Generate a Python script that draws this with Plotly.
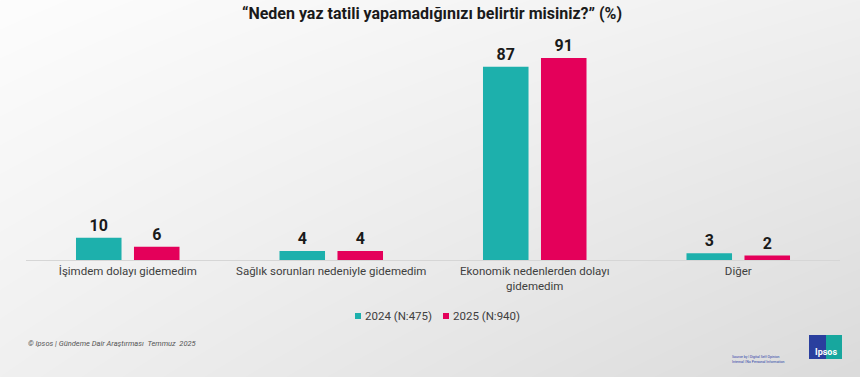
import base64, struct, zlib
import numpy as np
import plotly.graph_objects as go

categories = ["İşimdem dolayı gidemedim", "Sağlık sorunları nedeniyle gidemedim",
              "Ekonomik nedenlerden dolayı<br>gidemedim", "Diğer"]
series_2024 = [10, 4, 87, 3]
series_2025 = [6, 4, 91, 2]
name_2024 = "2024 (N:475)"
name_2025 = "2025 (N:940)"
title_text = "“Neden yaz tatili yapamadığınızı belirtir misiniz?” (%)"
footer_text = "© Ipsos | Gündeme Dair Araştırması  Temmuz  2025"

W, H = 860, 377
PL, PR, PT, PB = 26, 840, 38, 260   # plot area in window px
PW, PH = PR - PL, PB - PT

def px(x):   # window x -> paper
    return (x - PL) / PW

def py(y):   # window y -> paper
    return (PB - y) / PH

def gradient_png(w, h):
    xs = np.linspace(0, 1, w)[None, :]
    ys = np.linspace(0, 1, h)[:, None]
    tl, tr, bl, br = 253, 240, 240, 219
    v = tl * (1 - xs) * (1 - ys) + tr * xs * (1 - ys) + bl * (1 - xs) * ys + br * xs * ys
    v = np.clip(v, 0, 255).astype(np.uint8)
    rgb = np.stack([v, v, v], axis=-1)
    raw = b"".join(b"\x00" + rgb[r].tobytes() for r in range(h))
    def chunk(t, d):
        c = struct.pack(">I", len(d)) + t + d
        return c + struct.pack(">I", zlib.crc32(t + d) & 0xffffffff)
    png = b"\x89PNG\r\n\x1a\n" + chunk(b"IHDR", struct.pack(">IIBBBBB", w, h, 8, 2, 0, 0, 0)) \
        + chunk(b"IDAT", zlib.compress(raw, 9)) + chunk(b"IEND", b"")
    return "data:image/png;base64," + base64.b64encode(png).decode()

bg = gradient_png(W, H)

teal = "#1DB0AC"
pink = "#E4005A"
font_main = "Roboto"
label_font = dict(family=font_main, size=16, color="#1a1a1a", weight="bold")

fig = go.Figure()
for name, vals, col in [(name_2024, series_2024, teal), (name_2025, series_2025, pink)]:
    fig.add_trace(go.Bar(x=categories, y=vals, name=name, marker_color=col,
                         marker_line_width=0, text=vals, textposition="outside",
                         textfont=label_font, cliponaxis=False, showlegend=False,
                         hoverinfo="skip"))

fig.update_layout(
    width=W, height=H,
    margin=dict(l=PL, r=W - PR, t=PT, b=H - PB, autoexpand=False),
    paper_bgcolor="#f0f0f0", plot_bgcolor="rgba(0,0,0,0)",
    barmode="group", bargap=0.43, bargroupgap=0.215,
    font=dict(family=font_main, color="#404040", size=11),
    title=dict(text=title_text, x=432 / W, xref="container", xanchor="center",
               y=1 - 13.5 / H, yref="container", yanchor="middle",
               font=dict(family=font_main, size=16, color="#1a1a1a", weight="bold")),
    showlegend=False,
    xaxis=dict(showline=True, linecolor="#d6d6d6", linewidth=1, ticks="",
               tickfont=dict(family=font_main, size=11.5, color="#404040"), showgrid=False),
    yaxis=dict(range=[0, 100], visible=False, showgrid=False),
    images=[dict(source=bg, xref="paper", yref="paper", x=-PL / PW, y=1 + PT / PH,
                 sizex=W / PW, sizey=H / PH, xanchor="left", yanchor="top",
                 sizing="stretch", layer="below")],
)

# custom legend (small squares close to labels)
for name, col, sx in [(name_2024, teal, 355), (name_2025, pink, 443)]:
    fig.add_shape(type="rect", xref="paper", yref="paper", x0=px(sx), x1=px(sx + 6),
                  y0=py(319), y1=py(313), fillcolor=col, line_width=0)
    fig.add_annotation(text=name, xref="paper", yref="paper", x=px(sx + 7.5), y=py(316),
                       xanchor="left", yanchor="middle", showarrow=False,
                       font=dict(family=font_main, size=11.5, color="#404040"))

# footer
fig.add_annotation(text="<i>" + footer_text + "</i>", xref="paper", yref="paper",
                   x=px(26), y=py(343), xanchor="left", yanchor="middle", showarrow=False,
                   font=dict(family=font_main, size=7.5, color="#555555"))
# tiny classification text
fig.add_annotation(text="Source by | Digital Self Opinion<br>Internal | No Personal Information",
                   xref="paper", yref="paper", x=px(730), y=py(359),
                   xanchor="left", yanchor="middle", showarrow=False, align="left",
                   font=dict(family=font_main, size=3.5, color="#2d3fa8"))
# Ipsos logo
fig.add_shape(type="rect", xref="paper", yref="paper", x0=px(809), x1=px(826),
              y0=py(359), y1=py(335), fillcolor="#2a3f9e", line_width=0)
fig.add_shape(type="rect", xref="paper", yref="paper", x0=px(826), x1=px(842),
              y0=py(359), y1=py(335), fillcolor="#17a79e", line_width=0)
fig.add_annotation(text="<b>Ipsos</b>", xref="paper", yref="paper", x=px(825.5), y=py(352),
                   xanchor="center", yanchor="middle", showarrow=False,
                   font=dict(family=font_main, size=9, color="white"))

fig.write_html("out.html", config={"displayModeBar": False, "staticPlot": True},
               post_script="document.body.style.margin='0';document.body.style.overflow='hidden';")
